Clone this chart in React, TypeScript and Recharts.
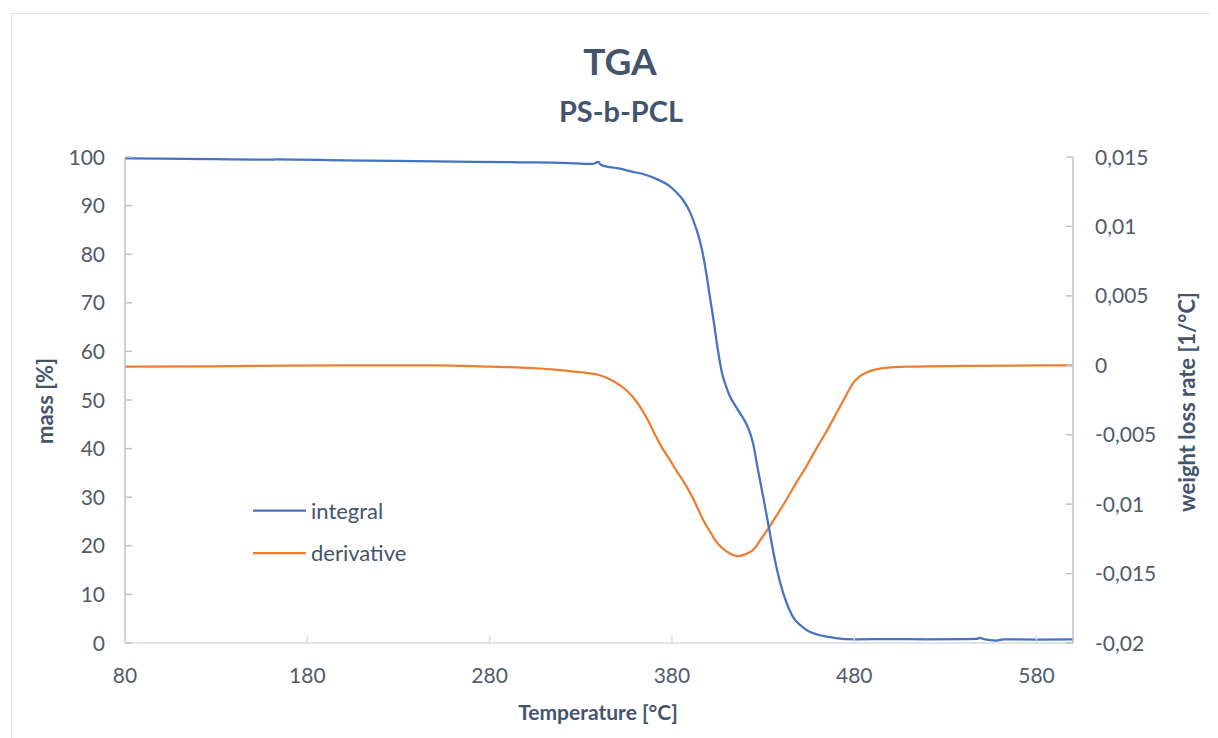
import React from 'react';
import { LineChart, Line, XAxis, YAxis } from 'recharts';

// TGA run of PS-b-PCL: residual mass (integral) and its derivative vs temperature
const integralTemp = [
  80, 100, 130, 160, 163, 200, 250, 297, 320, 337, 339.6, 341, 346, 350, 358, 365, 372, 378, 382,
  386, 390, 393, 395.5, 397.5, 399.5, 401, 403, 405, 407.5, 410, 412, 414, 416.5, 419, 422, 424.5,
  427, 430, 433.4, 436, 438, 441, 444, 447, 451, 455, 460, 465, 470, 480, 500, 520, 540, 547, 549,
  551, 558, 562, 580, 600,
];
const integralMass = [
  99.7, 99.65, 99.55, 99.45, 99.5, 99.3, 99.1, 98.9, 98.8, 98.6, 99.0, 98.4, 97.9, 97.7, 97.0, 96.4,
  95.4, 94.2, 92.9, 91.2, 88.6, 85.6, 82.5, 79.0, 74.5, 70.8, 66.0, 60.8, 55.5, 52.5, 50.6, 49.3,
  47.8, 46.3, 44.1, 41.1, 36.0, 30.2, 23.3, 18, 14.5, 10.3, 7.2, 5.0, 3.5, 2.4, 1.7, 1.3, 1.0, 0.75,
  0.8, 0.75, 0.8, 0.85, 1.05, 0.8, 0.5, 0.75, 0.7, 0.75,
];

const derivTemp = [
  80, 150, 200, 250, 280, 297.5, 318.5, 330, 340, 346, 351, 355, 358, 361, 364, 367, 370, 374,
  378.8, 383, 387.9, 392, 397, 401, 404.3, 408, 411.7, 414.5, 417.2, 420.5, 424.5, 429, 433.6, 438,
  442.7, 448, 453.7, 457.5, 461, 465.5, 470.2, 475, 479.3, 483, 487, 492, 500, 510, 540, 600,
];
const derivRate = [
  -0.0001, -0.00005, 0, 0, -0.0001, -0.00017, -0.00034, -0.0005, -0.0007, -0.001, -0.0014, -0.0018,
  -0.0022, -0.0027, -0.0033, -0.004, -0.0048, -0.0058, -0.0068, -0.0077, -0.0087, -0.0097, -0.0111,
  -0.012, -0.0127, -0.0132, -0.01354, -0.0137, -0.01373, -0.0136, -0.0133, -0.0125, -0.0116,
  -0.0107, -0.0097, -0.0085, -0.0073, -0.0064, -0.0056, -0.0046, -0.00346, -0.0023, -0.0013,
  -0.0008, -0.0005, -0.0003, -0.00015, -0.0001, -0.00005, 0,
];

const tempTicks = [80, 180, 280, 380, 480, 580];
const massTicks = [0, 10, 20, 30, 40, 50, 60, 70, 80, 90, 100];
const rateTicks = [-0.02, -0.015, -0.01, -0.005, 0, 0.005, 0.01, 0.015];

const integralData = integralTemp.map((t, i) => ({ t, mass: integralMass[i] }));
const derivData = derivTemp.map((t, i) => ({ t, rate: derivRate[i] }));

const W = 1210;
const H = 730;
const PLOT = { left: 117, right: 1065, top: 149, bottom: 635 };
const FONT = 'Lato, "Open Sans", sans-serif';
const TEXT = '#44546A';
const TICK_TEXT = '#4F5B6B';
const AXIS = '#B8C2D0';
const BLUE = '#4472C4';
const ORANGE = '#ED7D31';

const fmtRate = (v: number) => String(v).replace('.', ',');

const XTick = (props: any) => {
  const { x, payload } = props;
  return (
    <g>
      <line x1={x} x2={x} y1={PLOT.bottom} y2={PLOT.bottom - 7} stroke="#D6DAE0" strokeWidth={1.5} />
      <text x={x} y={PLOT.bottom + 39.5} textAnchor="middle" fontFamily={FONT} fontSize={21} fill={TICK_TEXT}>
        {payload.value}
      </text>
    </g>
  );
};

const LeftTick = (props: any) => {
  const { y, payload } = props;
  return (
    <g>
      <line x1={PLOT.left} x2={PLOT.left + 7} y1={y} y2={y} stroke={AXIS} strokeWidth={1.5} />
      <text x={PLOT.left - 20} y={y + 7.5} textAnchor="end" fontFamily={FONT} fontSize={21} fill={TICK_TEXT}>
        {payload.value}
      </text>
    </g>
  );
};

const RightTick = (props: any) => {
  const { y, payload } = props;
  return (
    <g>
      <line x1={PLOT.right - 7} x2={PLOT.right} y1={y} y2={y} stroke={AXIS} strokeWidth={1.5} />
      <text x={PLOT.right + 22} y={y + 7.5} textAnchor="start" fontFamily={FONT} fontSize={21} fill={TICK_TEXT}>
        {fmtRate(payload.value)}
      </text>
    </g>
  );
};

export default function App() {
  return (
    <div style={{ position: 'relative', width: W, height: H, overflow: 'hidden', background: '#fff' }}>
      <div
        style={{
          position: 'absolute',
          left: 3,
          top: 5,
          width: W + 40,
          height: H + 40,
          border: '1.5px solid #DEE2E8',
          boxSizing: 'border-box',
        }}
      />
      <div style={{ position: 'absolute', left: 0, top: 0 }}>
        <LineChart width={W} height={H} margin={{ top: PLOT.top, right: 0, bottom: 0, left: 0 }}>
          <XAxis
            dataKey="t"
            type="number"
            domain={[80, 600]}
            ticks={tempTicks}
            interval={0}
            height={H - PLOT.bottom}
            axisLine={{ stroke: '#D6DAE0', strokeWidth: 1.5 }}
            tickLine={false}
            tick={XTick}
            allowDataOverflow
          />
          <YAxis
            yAxisId="left"
            domain={[0, 100]}
            ticks={massTicks}
            interval={0}
            width={PLOT.left}
            axisLine={{ stroke: AXIS, strokeWidth: 1.5 }}
            tickLine={false}
            tick={LeftTick}
          />
          <YAxis
            yAxisId="right"
            orientation="right"
            domain={[-0.02, 0.015]}
            ticks={rateTicks}
            interval={0}
            width={W - PLOT.right}
            axisLine={{ stroke: AXIS, strokeWidth: 1.5 }}
            tickLine={false}
            tick={RightTick}
          />
          <Line
            yAxisId="right"
            data={derivData}
            dataKey="rate"
            type="monotone"
            stroke={ORANGE}
            strokeWidth={2.25}
            dot={false}
            isAnimationActive={false}
          />
          <Line
            yAxisId="left"
            data={integralData}
            dataKey="mass"
            type="monotone"
            stroke={BLUE}
            strokeWidth={2.25}
            dot={false}
            isAnimationActive={false}
          />
        </LineChart>
      </div>
      <svg
        width={W}
        height={H}
        style={{ position: 'absolute', left: 0, top: 0, pointerEvents: 'none' }}
      >
        <text x={612} y={66.5} textAnchor="middle" fontFamily={FONT} fontWeight={700} fontSize={37} fill={TEXT}>
          TGA
        </text>
        <text x={613} y={113.5} textAnchor="middle" fontFamily={FONT} fontWeight={700} fontSize={29} fill={TEXT}>
          PS-b-PCL
        </text>
        <text x={590} y={711.5} textAnchor="middle" fontFamily={FONT} fontWeight={700} fontSize={21} fill={TEXT}>
          Temperature [°C]
        </text>
        <text
          transform="translate(45 393) rotate(-90)"
          textAnchor="middle"
          fontFamily={FONT}
          fontWeight={700}
          fontSize={22}
          fill={TEXT}
        >
          mass [%]
        </text>
        <text
          transform="translate(1187 394) rotate(-90)"
          textAnchor="middle"
          fontFamily={FONT}
          fontWeight={700}
          fontSize={22}
          fill={TEXT}
        >
          weight loss rate [1/°C]
        </text>
        <g fontFamily={FONT} fontSize={22} fill={TEXT}>
          <line x1={245} x2={298} y1={502.7} y2={502.7} stroke={BLUE} strokeWidth={2.25} />
          <text x={303} y={510.5}>integral</text>
          <line x1={245} x2={298} y1={545} y2={545} stroke={ORANGE} strokeWidth={2.25} />
          <text x={303} y={552.8}>derivative</text>
        </g>
      </svg>
    </div>
  );
}
